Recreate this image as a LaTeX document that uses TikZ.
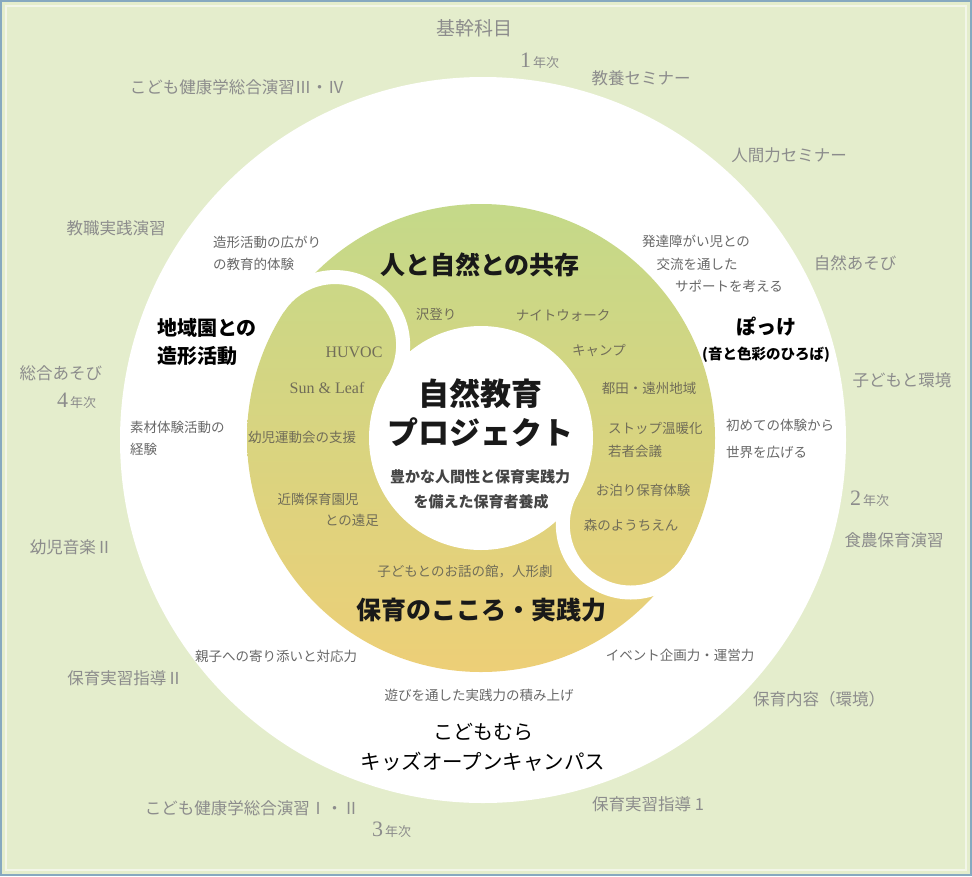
\documentclass[tikz,border=0pt]{standalone}
\usepackage{fontspec}
\newfontfamily\jp{Noto Sans CJK JP}
\newfontfamily\ser{Liberation Serif}
\usetikzlibrary{calc}
\definecolor{bgg}{HTML}{E4EDCC}
\definecolor{framecol}{HTML}{86A9C0}
\definecolor{ringtop}{HTML}{C4D989}
\definecolor{ringmid}{HTML}{D8D984}
\definecolor{ringbot}{HTML}{EDCF77}
\definecolor{outgray}{HTML}{8C8C8C}
\definecolor{ringtxt}{HTML}{716D58}
\definecolor{whitetxt}{HTML}{686868}
\definecolor{subtxt}{HTML}{444444}
\tikzset{
  txt/.style={inner sep=0pt, outer sep=0pt},
  outer/.style={txt, text=outgray, font=\jp\fontsize{16.5}{18}\selectfont},
  yearlbl/.style={txt, text=outgray, anchor=base west},
  wsmall/.style={txt, text=whitetxt, font=\jp\fontsize{13.5}{15}\selectfont},
  wbold/.style={txt, text=black, font=\jp\bfseries\fontsize{20}{22}\selectfont},
  rsmall/.style={txt, text=ringtxt, font=\jp\fontsize{13.5}{15}\selectfont},
  rser/.style={txt, text=ringtxt, font=\ser\fontsize{16}{18}\selectfont},
  rtitle/.style={txt, text=black!90, font=\jp\bfseries\fontsize{25}{27}\selectfont},
  ctitle/.style={txt, text=black!90, font=\jp\bfseries\fontsize{31}{33}\selectfont},
  csub/.style={txt, text=subtxt, font=\jp\bfseries\fontsize{15}{17}\selectfont},
}
\newcommand{\yr}[1]{{\ser\fontsize{22}{22}\selectfont #1}\hspace{2pt}{\jp\fontsize{13}{13}\selectfont 年次}}
\begin{document}
\begin{tikzpicture}[x=1pt,y=-1pt]
\useasboundingbox (0,0) rectangle (972,876);
% background
\fill[bgg] (0,0) rectangle (972,876);
\draw[white, opacity=0.55, line width=1.2pt] (6,6) rectangle (966,870);
\draw[framecol, line width=2pt] (1,1) rectangle (971,875);
% big white circle
\coordinate (W) at (483,440);
\fill[white] (W) circle (363);
% tomoe ring
\coordinate (C) at (481,438);
\coordinate (HB) at ($(C)+(212.5:173)$);
\coordinate (HA) at ($(C)+(30:173)$);
\shade[top color=ringtop, middle color=ringmid, bottom color=ringbot] (C) circle (234);
\fill[white] (C) circle (112);
\begin{scope}
  \clip ($(C)+(212.5:400)$) -- ($(C)+(32.5:400)$) -- ($(C)+(32.5:400)+(302.5:400)$) -- ($(C)+(212.5:400)+(302.5:400)$) -- cycle;
  \fill[white, even odd rule] (HB) circle (75) (HB) circle (61);
\end{scope}
\begin{scope}
  \clip ($(C)+(30:400)$) -- ($(C)+(210:400)$) -- ($(C)+(210:400)+(120:400)$) -- ($(C)+(30:400)+(120:400)$) -- cycle;
  \fill[white, even odd rule] (HA) circle (75) (HA) circle (61);
\end{scope}

% outer course names
\node[outer, font=\jp\fontsize{19}{20}\selectfont] (o1) at (474,28) {基幹科目};
\node[yearlbl] (o2) at (520,67) {\yr{1}};
\node[outer] (o3) at (641,78) {教養セミナー};
\node[outer] (o4) at (789,155) {人間力セミナー};
\node[outer] (o5) at (855,263) {自然あそび};
\node[outer] (o6) at (902,380) {子どもと環境};
\node[yearlbl] (o7) at (850,505) {\yr{2}};
\node[outer] (o8) at (894,540) {食農保育演習};
\node[outer] (o9) at (819,699) {保育内容（環境）};
\node[outer] (o10) at (648,804) {保育実習指導 1};
\node[yearlbl] (o11) at (372,836) {\yr{3}};
\node[outer] (o12) at (252,808) {こども健康学総合演習Ⅰ・Ⅱ};
\node[outer] (o13) at (125,678) {保育実習指導Ⅱ};
\node[outer] (o14) at (71,547) {幼児音楽Ⅱ};
\node[outer] (o15) at (61,373) {総合あそび};
\node[yearlbl] (o16) at (57,407) {\yr{4}};
\node[outer] (o17) at (116,228) {教職実践演習};
\node[outer] (o18) at (237,87) {こども健康学総合演習Ⅲ・Ⅳ};

% white ring texts
\node[wsmall, anchor=west] (w1a) at (213,242) {造形活動の広がり};
\node[wsmall, anchor=west] (w1b) at (213,264) {の教育的体験};
\node[wbold, anchor=west] (w2a) at (157,328) {地域園との};
\node[wbold, anchor=west] (w2b) at (157,356) {造形活動};
\node[wsmall, anchor=west] (w3a) at (130,427) {素材体験活動の};
\node[wsmall, anchor=west] (w3b) at (130,449) {経験};
\node[wsmall] (w4a) at (696,241) {発達障がい児との};
\node[wsmall] (w4b) at (697,264) {交流を通した};
\node[wsmall] (w4c) at (729,286) {サポートを考える};
\node[wbold] (w5a) at (766,327) {ぽっけ};
\node[wbold, font=\jp\bfseries\fontsize{14.5}{16}\selectfont] (w5b) at (766,355) {(音と色彩のひろば)};
\node[wsmall, anchor=west] (w6a) at (726,425) {初めての体験から};
\node[wsmall, anchor=west] (w6b) at (726,452) {世界を広げる};
\node[wsmall] (w7) at (276,656) {親子への寄り添いと対応力};
\node[wsmall] (w8) at (680,655) {イベント企画力・運営力};
\node[wsmall] (w9) at (479,695) {遊びを通した実践力の積み上げ};
\node[wbold, font=\jp\fontsize{20}{22}\selectfont] (w10a) at (483,732) {こどもむら};
\node[wbold, font=\jp\fontsize{20.5}{22}\selectfont] (w10b) at (483,762) {キッズオープンキャンパス};

% ring texts
\node[rtitle] (r1) at (480,265) {人と自然との共存};
\node[rtitle] (r2) at (481,610) {保育のこころ・実践力};
\node[rsmall] (r3) at (436,314) {沢登り};
\node[rsmall] (r4) at (563,315) {ナイトウォーク};
\node[rsmall] (r5) at (599,350) {キャンプ};
\node[rsmall] (r6) at (649,388) {都田・遠州地域};
\node[rsmall, anchor=west] (r7a) at (608,428) {ストップ温暖化};
\node[rsmall, anchor=west] (r7b) at (608,451) {若者会議};
\node[rsmall] (r8) at (643,490) {お泊り保育体験};
\node[rsmall] (r9) at (631,525) {森のようちえん};
\node[rser] (r10) at (354,352) {HUVOC};
\node[rser] (r11) at (327,388) {Sun \& Leaf};
\node[rsmall] (r12) at (302,437) {幼児運動会の支援};
\node[rsmall] (r13a) at (318,499) {近隣保育園児};
\node[rsmall] (r13b) at (352,520) {との遠足};
\node[rsmall] (r14) at (465,572) {子どもとのお話の館，人形劇};

% centre
\node[ctitle] (c1) at (480,394) {自然教育};
\node[ctitle] (c2) at (480,432) {プロジェクト};
\node[csub] (c3) at (480,477) {豊かな人間性と保育実践力};
\node[csub] (c4) at (481,502) {を備えた保育者養成};
\end{tikzpicture}
\end{document}
